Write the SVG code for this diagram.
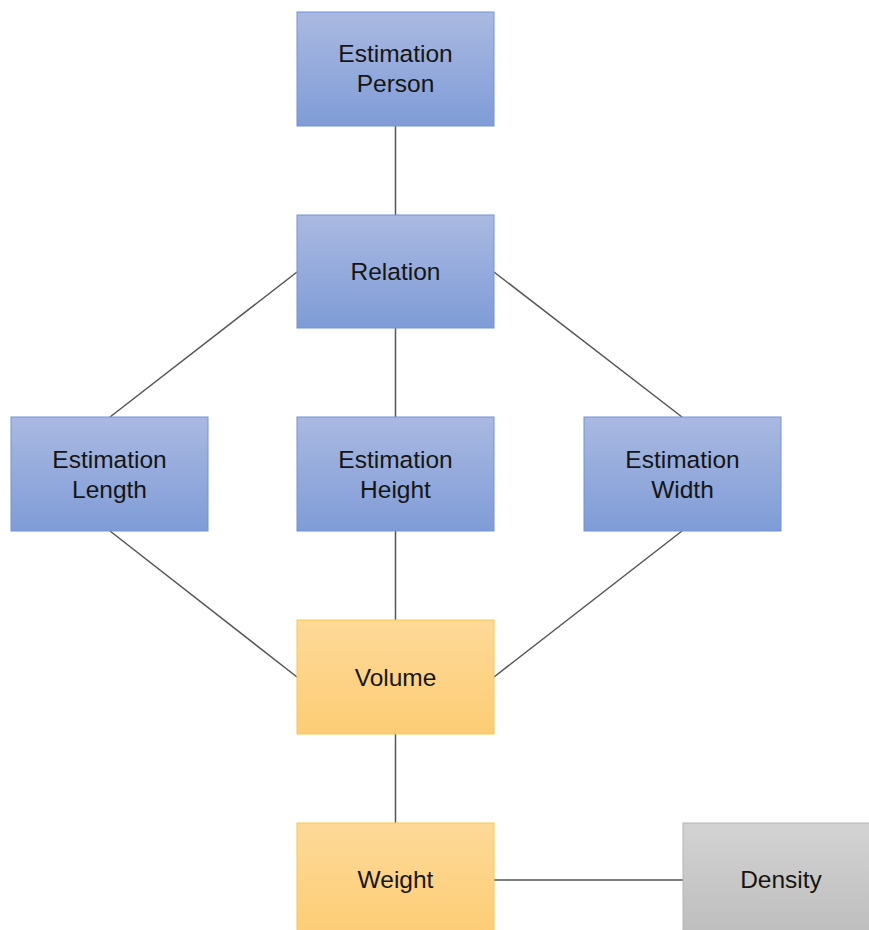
<svg xmlns="http://www.w3.org/2000/svg" width="869" height="930" viewBox="0 0 869 930">
<defs>
<linearGradient id="gb" x1="0" y1="0" x2="0" y2="1"><stop offset="0" stop-color="#aab9e1"/><stop offset="1" stop-color="#7f9cd7"/></linearGradient>
<linearGradient id="gy" x1="0" y1="0" x2="0" y2="1"><stop offset="0" stop-color="#fdd998"/><stop offset="1" stop-color="#fdcd75"/></linearGradient>
<linearGradient id="gg" x1="0" y1="0" x2="0" y2="1"><stop offset="0" stop-color="#d3d3d3"/><stop offset="1" stop-color="#bdbdbd"/></linearGradient>
</defs>
<style>
.b{fill:url(#gb);stroke:#7092d8;stroke-width:1}
.y{fill:url(#gy);stroke:#f8c84a;stroke-width:1}
.g{fill:url(#gg);stroke:#b3b3b3;stroke-width:1}
text{font-family:"Liberation Sans",Arial,sans-serif;font-size:24.5px;fill:#151515;text-anchor:middle}
.c line{stroke:#555;stroke-width:1.5}
</style>
<rect width="869" height="930" fill="#fff"/>
<g class="c" id="connectors">
<line x1="395.5" y1="126" x2="395.5" y2="215"/>
<line x1="297" y1="272" x2="110" y2="417"/>
<line x1="494" y1="272" x2="682" y2="417"/>
<line x1="395.5" y1="328" x2="395.5" y2="417"/>
<line x1="110" y1="531" x2="297" y2="677"/>
<line x1="395.5" y1="531" x2="395.5" y2="620"/>
<line x1="682" y1="531" x2="494" y2="677"/>
<line x1="395.5" y1="734" x2="395.5" y2="823"/>
<line x1="494" y1="880" x2="683" y2="880"/>
</g>
<g id="person"><rect class="b" x="297" y="12" width="197" height="114"/><text x="395.5" y="62">Estimation</text><text x="395.5" y="92">Person</text></g>
<g id="relation"><rect class="b" x="297" y="215" width="197" height="113"/><text x="395.5" y="280">Relation</text></g>
<g id="length"><rect class="b" x="11" y="417" width="197" height="114"/><text x="109.5" y="468">Estimation</text><text x="109.5" y="498">Length</text></g>
<g id="height"><rect class="b" x="297" y="417" width="197" height="114"/><text x="395.5" y="468">Estimation</text><text x="395.5" y="498">Height</text></g>
<g id="width"><rect class="b" x="584" y="417" width="197" height="114"/><text x="682.5" y="468">Estimation</text><text x="682.5" y="498">Width</text></g>
<g id="volume"><rect class="y" x="297" y="620" width="197" height="114"/><text x="395.5" y="686">Volume</text></g>
<g id="weight"><rect class="y" x="297" y="823" width="197" height="114"/><text x="395.5" y="888">Weight</text></g>
<g id="density"><rect class="g" x="683" y="823" width="197" height="114"/><text x="781" y="888">Density</text></g>
</svg>
